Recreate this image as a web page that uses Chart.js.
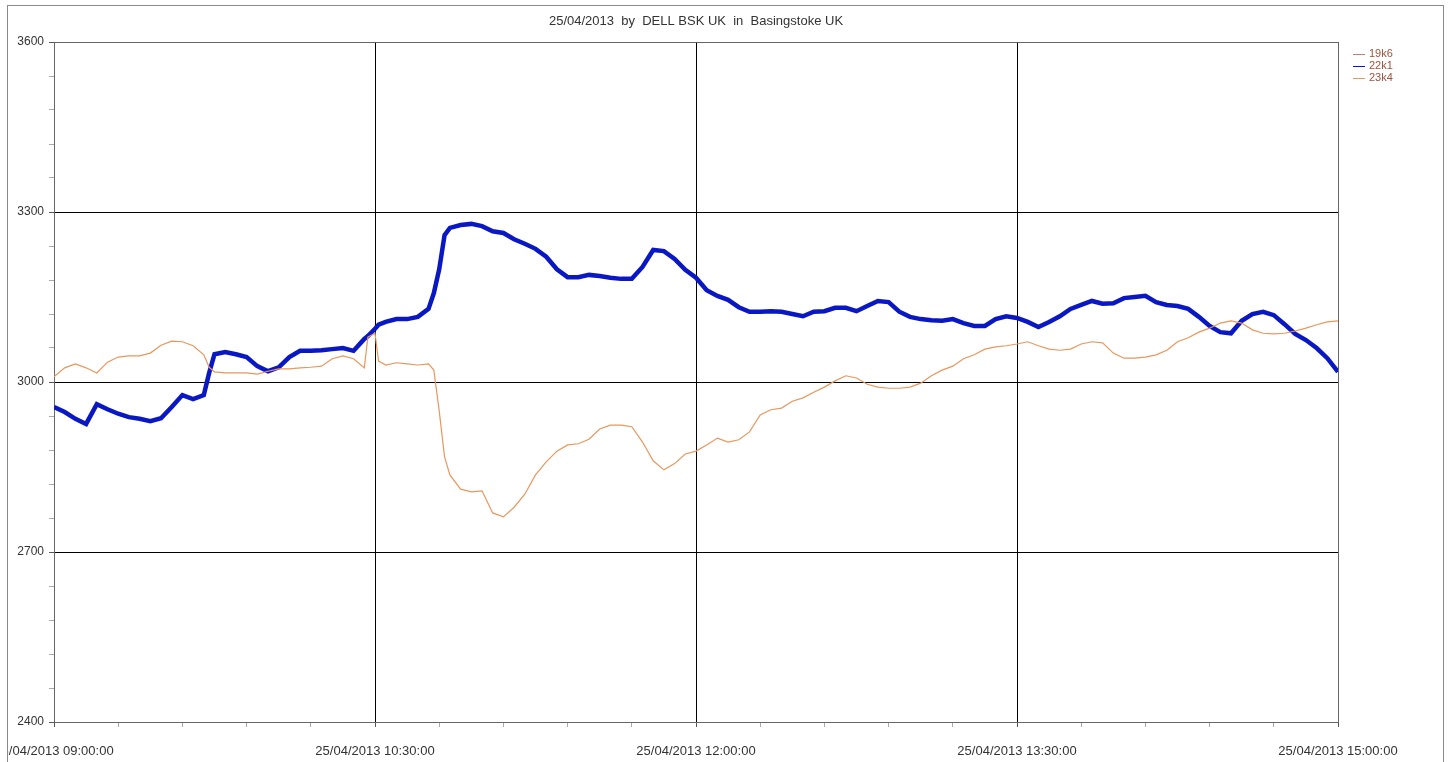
<!DOCTYPE html>
<html>
<head>
<meta charset="utf-8">
<script src="https://cdn.jsdelivr.net/npm/chart.js@4.4.0/dist/chart.umd.min.js"></script>
<style>
  html, body { margin: 0; padding: 0; background: #fff; width: 1452px; height: 762px; overflow: hidden; }
  #frame { position: absolute; left: 7px; top: 5px; width: 1435px; height: 800px; border: 1px solid #8a8a8a; overflow: hidden; background: #fff; }
  #wrap { position: absolute; left: -24px; top: -6px; width: 1459px; height: 762px; }
</style>
</head>
<body>
<div id="frame"><div id="wrap"><canvas id="chart"></canvas></div></div>
<script>
const chartTitle = "25/04/2013  by  DELL BSK UK  in  Basingstoke UK";
const seriesNames = ["19k6", "22k1", "23k4"];
const xTickLabels = ["25/04/2013 09:00:00", "25/04/2013 10:30:00", "25/04/2013 12:00:00", "25/04/2013 13:30:00", "25/04/2013 15:00:00"];

// minutes after 09:00
const minutes = [0, 3, 6, 9, 12, 15, 18, 21, 24, 27, 30, 33, 36, 39, 42, 43.5, 45, 48, 51, 54, 57,
  60, 63, 66, 69, 72, 75, 78, 81, 84, 87, 88, 90, 91, 93, 96, 99, 102, 105, 106.5, 108, 109.5, 111, 114, 117,
  120, 123, 126, 129, 132, 135, 138, 141, 144, 147, 150, 153, 156, 159, 162, 165, 168, 171, 174, 177,
  180, 183, 186, 189, 192, 195, 198, 201, 204, 207, 210, 213, 216, 219, 222, 225, 228, 231, 234, 237,
  240, 243, 246, 249, 252, 255, 258, 261, 264, 267, 270, 273, 276, 279, 282, 285, 288, 291, 294, 297,
  300, 303, 306, 309, 312, 315, 318, 321, 324, 327, 330, 333, 336, 339, 342, 345, 348, 351, 354, 357, 360];

const values19k6 = [];

const values22k1 = [2956, 2947, 2935, 2926, 2961, 2952, 2944, 2938, 2935, 2931, 2936, 2956, 2977, 2970, 2977, 3016, 3049, 3053, 3049, 3044, 3028,
  3019, 3026, 3044, 3055, 3055, 3056, 3058, 3060, 3055, 3076, 3081, 3094, 3101, 3106, 3111, 3111, 3115, 3129, 3157, 3199, 3259, 3272, 3277, 3279,
  3275, 3266, 3263, 3252, 3244, 3235, 3221, 3199, 3185, 3185, 3189, 3187, 3184, 3182, 3182, 3203, 3233, 3231, 3217, 3198,
  3184, 3162, 3152, 3145, 3132, 3124, 3124, 3125, 3124, 3120, 3116, 3124, 3125, 3131, 3131, 3125, 3134, 3143, 3141, 3124,
  3115, 3111, 3109, 3108, 3111, 3104, 3099, 3099, 3111, 3116, 3113, 3106, 3097, 3106, 3116, 3129, 3136, 3143, 3138, 3139,
  3148, 3150, 3152, 3141, 3136, 3134, 3129, 3115, 3099, 3088, 3086, 3108, 3120, 3124, 3118, 3102, 3085, 3074, 3060, 3042, 3018];

const values23k4 = [3009, 3025, 3032, 3025, 3016, 3035, 3044, 3046, 3046, 3051, 3065, 3072, 3071, 3064, 3048, 3026, 3018, 3016, 3016, 3016, 3014,
  3019, 3023, 3023, 3025, 3026, 3028, 3041, 3046, 3041, 3025, 3079, 3086, 3037, 3030, 3034, 3032, 3030, 3032, 3021, 2949, 2868, 2836, 2811, 2806,
  2808, 2769, 2762, 2779, 2802, 2836, 2859, 2878, 2889, 2891, 2899, 2917, 2924, 2924, 2921, 2894, 2861, 2845, 2856, 2873,
  2878, 2889, 2901, 2894, 2898, 2912, 2942, 2951, 2954, 2966, 2972, 2982, 2991, 3002, 3011, 3007, 2996, 2991, 2989, 2989,
  2991, 2998, 3011, 3021, 3028, 3041, 3048, 3058, 3062, 3064, 3067, 3071, 3064, 3058, 3056, 3058, 3067, 3071, 3069, 3051,
  3042, 3042, 3044, 3048, 3056, 3071, 3078, 3088, 3095, 3104, 3108, 3104, 3092, 3086, 3085, 3086, 3090, 3095, 3101, 3106, 3108];

const seriesColors = ["#c97c6c", "#0a18c4", "#e8975e"];

const toPoints = (vals) => vals.map((v, i) => ({ x: minutes[i], y: v }));

const fontFamily = '"Liberation Sans", Arial, sans-serif';

const titlePlugin = {
  id: "titleText",
  afterDraw(chart) {
    const { ctx, chartArea } = chart;
    ctx.save();
    ctx.font = "13px " + fontFamily;
    ctx.fillStyle = "#333";
    ctx.textAlign = "center";
    ctx.textBaseline = "alphabetic";
    ctx.fillText(chartTitle, (chartArea.left + chartArea.right) / 2, 25);
    ctx.restore();
  },
};

const legendPlugin = {
  id: "sideLegend",
  afterDraw(chart) {
    const { ctx, chartArea } = chart;
    ctx.save();
    ctx.font = "11px " + fontFamily;
    ctx.textBaseline = "middle";
    chart.data.datasets.forEach((ds, i) => {
      const y = chartArea.top + 12 + i * 12;
      ctx.strokeStyle = ds.borderColor;
      ctx.lineWidth = 1;
      ctx.beginPath();
      ctx.moveTo(chartArea.right + 15, y + 0.5);
      ctx.lineTo(chartArea.right + 27, y + 0.5);
      ctx.stroke();
      ctx.fillStyle = "#a0523a";
      ctx.fillText(ds.label, chartArea.right + 31, y);
    });
    ctx.restore();
  },
};

new Chart(document.getElementById("chart"), {
  type: "line",
  data: {
    datasets: [
      { label: seriesNames[0], data: toPoints(values19k6), borderColor: seriesColors[0], borderWidth: 1, pointRadius: 0, order: 2 },
      { label: seriesNames[1], data: toPoints(values22k1), borderColor: seriesColors[1], borderWidth: 4.5, pointRadius: 0, order: 1 },
      { label: seriesNames[2], data: toPoints(values23k4), borderColor: seriesColors[2], borderWidth: 1.2, pointRadius: 0, order: 0 },
    ],
  },
  options: {
    responsive: true,
    maintainAspectRatio: false,
    animation: false,
    layout: { padding: { top: 42, right: 105, left: 0, bottom: 0 } },
    plugins: { legend: { display: false }, tooltip: { enabled: false } },
    scales: {
      x: {
        type: "linear",
        min: 0,
        max: 360,
        afterFit: (scale) => {
          scale.height = 40;
          scale.paddingLeft = 0;
          scale.paddingRight = 0;
        },
        ticks: {
          stepSize: 18,
          autoSkip: false,
          maxRotation: 0,
          padding: 17,
          color: "#333",
          font: { family: fontFamily, size: 13 },
          callback: (v) => (v % 90 === 0 ? xTickLabels[v / 90] : ""),
        },
        grid: {
          color: (c) => (c.tick && c.tick.value % 90 === 0 ? (c.tick.value === 0 || c.tick.value === 360 ? "#666" : "#000") : "rgba(0,0,0,0)"),
          tickColor: (c) => (c.tick && c.tick.value % 90 === 0 ? "#555" : "#aaa"),
          tickLength: 5,
        },
        border: { display: true, color: "#666" },
      },
      y: {
        min: 2400,
        max: 3600,
        afterFit: (scale) => { scale.width = 70; },
        ticks: {
          stepSize: 60,
          autoSkip: false,
          padding: 5,
          color: "#333",
          font: { family: fontFamily, size: 12 },
          callback: (v) => (v % 300 === 0 ? String(v) : ""),
        },
        grid: {
          color: (c) => (c.tick && c.tick.value % 300 === 0 ? (c.tick.value === 2400 || c.tick.value === 3600 ? "#666" : "#000") : "rgba(0,0,0,0)"),
          tickColor: (c) => (c.tick && c.tick.value % 300 === 0 ? "#555" : "#aaa"),
          tickLength: 5,
        },
        border: { display: true, color: "#666" },
      },
    },
  },
  plugins: [titlePlugin, legendPlugin],
});
</script>
</body>
</html>
